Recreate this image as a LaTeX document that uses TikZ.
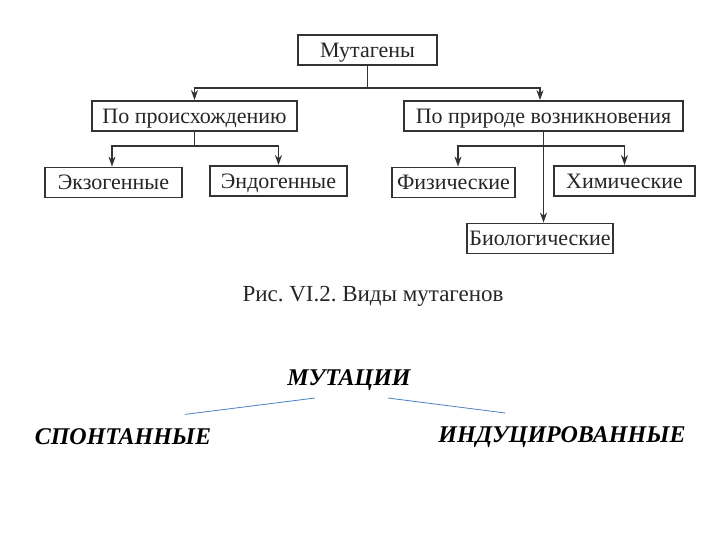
\documentclass[tikz,border=0pt]{standalone}
\usepackage{fontspec}
\setmainfont{Liberation Serif}
\usetikzlibrary{arrows.meta}
\definecolor{linkblue}{RGB}{79,129,189}
\frenchspacing
\begin{document}
\begin{tikzpicture}[x=1pt, y=-1pt,
  box/.style={draw=black!80, line width=1.8pt, minimum width=#1, minimum height=30pt,
              inner sep=1pt, text height=14.5pt, text depth=0pt,
              font=\fontsize{22}{24}\selectfont, text=black!85},
  arr/.style={-{Stealth[length=10pt,width=7pt]}, line width=1.6pt, draw=black!80},
  big/.style={font=\fontsize{24}{28}\selectfont\bfseries\itshape},
  link/.style={draw=linkblue, line width=0.8pt},
]
\useasboundingbox[fill=white] (0,0) rectangle (720,540);

%% Top: scanned scheme
\node[box=139pt] (mut)  at (367.5,50)  {Мутагены};
\node[box=205pt] (orig) at (194.5,116) {По происхождению};
\node[box=279pt] (nat)  at (543.5,116) {По природе возникновения};

\node[box=137pt] (exo)  at (113.5,182.5) {Экзогенные};
\node[box=137pt] (endo) at (278.5,181)   {Эндогенные};
\node[box=123pt] (phys) at (453.5,182.5) {Физические};
\node[box=141pt] (chem) at (624.5,181)   {Химические};
\node[box=146pt] (bio)  at (540,238.5)   {Биологические};

%% Connectors
\draw[arr, -] (mut.south) -- ++(0,22) coordinate (j0);
\draw[arr] (j0) -| (orig.north);
\draw[arr] (j0) -| ([xshift=-3.5pt]nat.north);

\draw[arr, -] (orig.south) -- ++(0,14) coordinate (j1);
\draw[arr] (j1) -| ([xshift=-1.5pt]exo.north);
\draw[arr] (j1) -| (endo.north);

\draw[arr, -] (nat.south) -- ++(0,14) coordinate (j2);
\draw[arr] (j2) -| ([xshift=4.5pt]phys.north);
\draw[arr] (j2) -| (chem.north);
\draw[arr] (nat.south) -- (nat.south |- bio.north);

%% Caption
\node[font=\fontsize{23}{26}\selectfont, text=black!85] (cap) at (373,296)
  {Рис. VI.2. Виды мутагенов};

%% Bottom: mutations
\node[big] (mutac) at (349,380) {МУТАЦИИ};
\node[big] (spont) at (123,437) {СПОНТАННЫЕ};
\node[big] (induc) at (562,437) {ИНДУЦИРОВАННЫЕ};

\draw[link] ([xshift=-34pt,yshift=-4pt]mutac.south) -- ([xshift=62pt,yshift=11pt]spont.north);
\draw[link] ([xshift=39pt,yshift=-4pt]mutac.south) -- ([xshift=-57pt,yshift=10pt]induc.north);

\end{tikzpicture}
\end{document}
